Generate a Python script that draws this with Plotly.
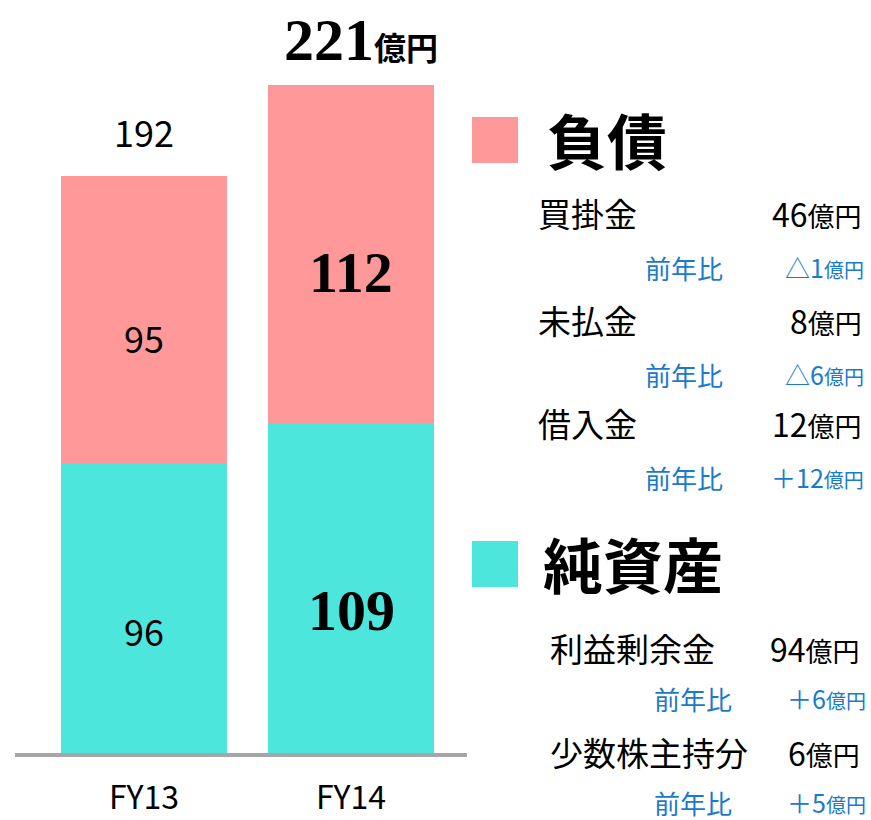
import plotly.graph_objects as go

years = ["FY13", "FY14"]
net_assets = [96, 109]
liabilities = [95, 112]
totals = [192, 221]

liab_items = ["買掛金", "未払金", "借入金"]
liab_values = ["46", "8", "12"]
liab_changes = ["△1", "△6", "＋12"]

equity_items = ["利益剰余金", "少数株主持分"]
equity_values = ["94", "6"]
equity_changes = ["＋6", "＋5"]

PINK = "#ff9999"
TEAL = "#4de6dc"
BLUE = "#1a7acb"
SANS = "Noto Sans CJK JP"
SERIF = "Liberation Serif"

W, H = 871, 820
L, R, T, B = 15, 404, 20, 67


def px(x):
    return (x - L) / (W - L - R)


def py(y):
    return (H - B - y) / (H - T - B)


fig = go.Figure()
fig.add_trace(go.Bar(x=years, y=net_assets, name="純資産", marker_color=TEAL,
                     marker_line_width=0))
fig.add_trace(go.Bar(x=years, y=liabilities, name="負債", marker_color=PINK,
                     marker_line_width=0))

ann = []
# labels inside bars
for i, yr in enumerate(years):
    big = i == 1
    font = dict(family=SERIF, size=58, color="black", weight="bold") if big \
        else dict(family=SANS, size=36, color="black")
    ann.append(dict(x=yr, y=net_assets[i] / 2, text=str(net_assets[i]), showarrow=False,
                    yshift=-22, font=font))
    ann.append(dict(x=yr, y=net_assets[i] + liabilities[i] / 2, text=str(liabilities[i]),
                    showarrow=False, yshift=-18, font=font))

ann.append(dict(x=years[0], y=totals[0], text=str(totals[0]), showarrow=False,
                yanchor="bottom", yshift=14, font=dict(family=SANS, size=36, color="black")))
ann.append(dict(x=years[1], y=totals[1], xshift=10, text="<b>%d</b><span style='font-size:32px;font-family:%s'><b>億円</b></span>" % (totals[1], SANS),
                showarrow=False, yanchor="bottom", yshift=10,
                font=dict(family=SERIF, size=60, color="black")))


def add_text(x, y, text, size, color="black", anchor="left", family=SANS, weight="normal"):
    ann.append(dict(xref="paper", yref="paper", x=px(x), y=py(y), text=text,
                    showarrow=False, xanchor=anchor, yanchor="middle",
                    font=dict(family=family, size=size, color=color, weight=weight)))


def unit(v, s):
    return "%s<span style='font-size:%dpx'>億円</span>" % (v, s)


# legend headings
add_text(545, 138, "負債", 60, weight="bold")
add_text(541, 563, "純資産", 60, weight="bold")

rows_y = [213, 320, 423]
for name, val, chg, y in zip(liab_items, liab_values, liab_changes, rows_y):
    add_text(536, y, name, 33)
    add_text(864, y, unit(val, 27), 32, anchor="right")
    add_text(643, y + 54, "前年比", 26, color=BLUE)
    add_text(866, y + 54, unit(chg, 20), 25, color=BLUE, anchor="right")

rows_y = [648, 752]
for name, val, chg, y in zip(equity_items, equity_values, equity_changes, rows_y):
    add_text(548, y, name, 33)
    add_text(862, y, unit(val, 27), 32, anchor="right")
    add_text(652, y + 50, "前年比", 26, color=BLUE)
    add_text(868, y + 50, unit(chg, 20), 25, color=BLUE, anchor="right")

shapes = [
    dict(type="rect", xref="paper", yref="paper", x0=px(472), x1=px(518),
         y0=py(163), y1=py(117), fillcolor=PINK, line_width=0),
    dict(type="rect", xref="paper", yref="paper", x0=px(472), x1=px(518),
         y0=py(587), y1=py(541), fillcolor=TEAL, line_width=0),
]

fig.update_layout(
    barmode="stack",
    bargap=0.2,
    width=W, height=H,
    margin=dict(l=L, r=R, t=T, b=B),
    paper_bgcolor="white",
    plot_bgcolor="white",
    showlegend=False,
    annotations=ann,
    shapes=shapes,
    xaxis=dict(range=[-0.623, 1.56], showline=True, linecolor="#a6a6a6", linewidth=4,
               showgrid=False, zeroline=False, ticks="", ticklabelstandoff=14,
               automargin=False,
               tickfont=dict(family=SANS, size=32, color="black")),
    yaxis=dict(range=[0, 242.5], visible=False, showgrid=False, zeroline=False),
)

fig.write_html("out.html", config={"displayModeBar": False},
               post_script="document.body.style.margin='0';")
